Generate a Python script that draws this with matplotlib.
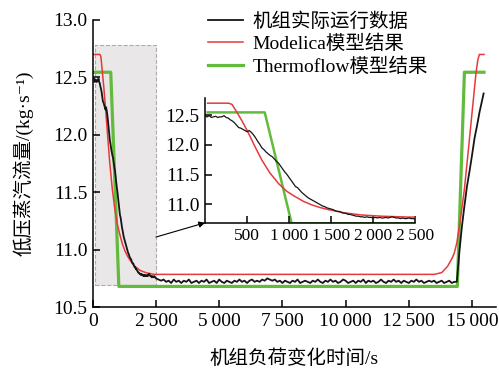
import matplotlib
matplotlib.use("Agg")
import matplotlib.pyplot as plt
from matplotlib.patches import Rectangle
import numpy as np

plt.rcParams["font.family"] = ["Liberation Serif", "Noto Sans CJK SC", "DejaVu Sans"]
plt.rcParams["axes.unicode_minus"] = False

# measured unit data, black = plant operation
black_t1 = np.arange(0, 2500, 25)
black_v1 = [
    12.48, 12.47, 12.49, 12.46, 12.47, 12.48, 12.46, 12.47, 12.47, 12.49,
    12.46, 12.45, 12.42, 12.40, 12.37, 12.33, 12.29, 12.28, 12.26, 12.24,
    12.22, 12.24, 12.21, 12.17, 12.12, 12.06, 12.01, 11.95, 11.92, 11.88,
    11.85, 11.82, 11.80, 11.76, 11.72, 11.69, 11.64, 11.59, 11.54, 11.50,
    11.45, 11.40, 11.35, 11.30, 11.28, 11.24, 11.20, 11.17, 11.14, 11.11,
    11.09, 11.07, 11.05, 11.03, 11.01, 10.99, 10.97, 10.96, 10.94, 10.93,
    10.92, 10.91, 10.89, 10.88, 10.88, 10.86, 10.85, 10.85, 10.83, 10.83,
    10.82, 10.81, 10.80, 10.80, 10.79, 10.79, 10.78, 10.79, 10.78, 10.78,
    10.77, 10.78, 10.77, 10.78, 10.77, 10.77, 10.78, 10.77, 10.78, 10.79,
    10.78, 10.77, 10.77, 10.76, 10.77, 10.76, 10.76, 10.77, 10.76, 10.76,
]
black_t2 = np.arange(2500, 14500, 100)
black_v2 = [
    10.75, 10.74, 10.73, 10.74, 10.72, 10.73, 10.71, 10.74, 10.72, 10.73,
    10.71, 10.73, 10.72, 10.74, 10.71, 10.72, 10.73, 10.71, 10.73, 10.72,
    10.74, 10.71, 10.72, 10.73, 10.71, 10.74, 10.72, 10.71, 10.73, 10.72,
    10.71, 10.73, 10.72, 10.74, 10.72, 10.73, 10.71, 10.73, 10.74, 10.72,
    10.73, 10.72, 10.74, 10.73, 10.75, 10.74, 10.73, 10.74, 10.72, 10.73,
    10.71, 10.73, 10.72, 10.71, 10.73, 10.72, 10.74, 10.71, 10.72, 10.73,
    10.72, 10.71, 10.73, 10.72, 10.74, 10.72, 10.71, 10.73, 10.72, 10.74,
    10.72, 10.73, 10.71, 10.72, 10.74, 10.73, 10.71, 10.72, 10.73, 10.71,
    10.73, 10.72, 10.74, 10.71, 10.73, 10.72, 10.73, 10.71, 10.72, 10.74,
    10.72, 10.71, 10.73, 10.72, 10.74, 10.72, 10.73, 10.71, 10.73, 10.72,
    10.71, 10.73, 10.72, 10.74, 10.72, 10.73, 10.71, 10.72, 10.73, 10.72,
    10.73, 10.71, 10.72, 10.73, 10.71, 10.72, 10.73, 10.71, 10.72, 10.72,
]
black_t3 = [14500, 14600, 14700, 14800, 14900, 15000, 15100, 15200, 15300, 15400, 15460]
black_v3 = [10.98, 11.20, 11.38, 11.55, 11.68, 11.82, 11.97, 12.08, 12.20, 12.30, 12.36]

# Modelica model
red_t = [30, 280, 320, 377, 440, 508, 590, 675, 770, 873, 970, 1071, 1170, 1270,
         1370, 1468, 1665, 1865, 2100, 2420, 13505, 13800, 14034, 14200, 14299,
         14400, 14497, 14600, 14696, 14830, 14960, 15060, 15159, 15230, 15291, 15476]
red_v = [12.70, 12.70, 12.68, 12.55, 12.40, 12.22, 11.98, 11.745, 11.53, 11.35, 11.22,
         11.13, 11.05, 10.99, 10.945, 10.91, 10.855, 10.82, 10.80, 10.785, 10.785,
         10.80, 10.855, 10.92, 10.97, 11.06, 11.20, 11.36, 11.52, 11.81, 12.10, 12.32,
         12.54, 12.65, 12.70, 12.70]

# Thermoflow model
green_t = [30, 710, 1030, 14420, 14700, 15476]
green_v = [12.545, 12.545, 10.68, 10.68, 12.545, 12.545]

xticks = [0, 2500, 5000, 7500, 10000, 12500, 15000]
xtick_labels = ["0", "2\u2009500", "5\u2009000", "7\u2009500", "10\u2009000", "12\u2009500", "15\u2009000"]
yticks = [10.5, 11.0, 11.5, 12.0, 12.5, 13.0]
inset_xticks = [500, 1000, 1500, 2000, 2500]
inset_xtick_labels = ["500", "1\u2009000", "1\u2009500", "2\u2009000", "2\u2009500"]
inset_yticks = [11.0, 11.5, 12.0, 12.5]

black_t = np.concatenate([black_t1, black_t2, black_t3])
black_v = np.concatenate([black_v1, black_v2, black_v3])

c_black = "#151515"
c_red = "#e63a3a"
c_green = "#62bb3c"

fig = plt.figure(figsize=(4.99, 3.70), dpi=100)
ax = fig.add_axes([0.186, 0.170, 0.808, 0.776])


def style_axes(a, fs):
    for s in ["top", "right"]:
        a.spines[s].set_visible(False)
    for s in ["left", "bottom"]:
        a.spines[s].set_linewidth(1.1)
    a.tick_params(direction="in", length=5, width=1.1, labelsize=fs, pad=4)


# zoom box
ax.add_patch(Rectangle((90, 10.69), 2410, 2.09, facecolor="#e9e7e7",
                       edgecolor="#b3a9a9", linestyle="--", linewidth=0.8, zorder=0))

ax.plot(black_t, black_v, color=c_black, lw=1.3, label="机组实际运行数据", zorder=3)
ax.plot(red_t, red_v, color=c_red, lw=1.1, label="Modelica模型结果", zorder=2)
ax.plot(green_t, green_v, color=c_green, lw=2.3, label="Thermoflow模型结果", zorder=1)

ax.set_xlim(0, 15950)
ax.set_ylim(10.5, 13.0)
ax.set_xticks(xticks)
ax.set_xticklabels(xtick_labels)
ax.set_yticks(yticks)
ax.set_yticklabels([f"{v:.1f}" for v in yticks])
style_axes(ax, 14)
ax.set_xlabel("机组负荷变化时间/s", fontsize=14, labelpad=14)
ax.set_ylabel("低压蒸汽流量/(kg·s⁻¹)", fontsize=14, labelpad=14)

ax.legend(loc="upper left", bbox_to_anchor=(0.417, 0.968), bbox_transform=fig.transFigure,
          frameon=False, fontsize=14, handlelength=1.8, handletextpad=0.5,
          labelspacing=0.22, borderpad=0, borderaxespad=0)

# inset
ins = fig.add_axes([0.411, 0.398, 0.421, 0.336])
ins.set_facecolor("white")
ins.plot(black_t, black_v, color=c_black, lw=0.9, zorder=3)
ins.plot(red_t, red_v, color=c_red, lw=1.1, zorder=2)
ins.plot(green_t, green_v, color=c_green, lw=1.8, zorder=1)
ins.set_xlim(0, 2500)
ins.set_ylim(10.69, 12.78)
ins.set_xticks(inset_xticks)
ins.set_xticklabels(inset_xtick_labels)
ins.set_yticks(inset_yticks)
ins.set_yticklabels([f"{v:.1f}" for v in inset_yticks])
style_axes(ins, 14)
ins.tick_params(axis="x", labelsize=12.5)

ax.annotate("", xy=(0.411, 0.398), xycoords="figure fraction",
            xytext=(2500, 11.11), textcoords="data",
            arrowprops=dict(arrowstyle="-|>", color="black", lw=0.8,
                            shrinkA=0, shrinkB=0, mutation_scale=9))

fig.savefig("out.png", dpi=100)
